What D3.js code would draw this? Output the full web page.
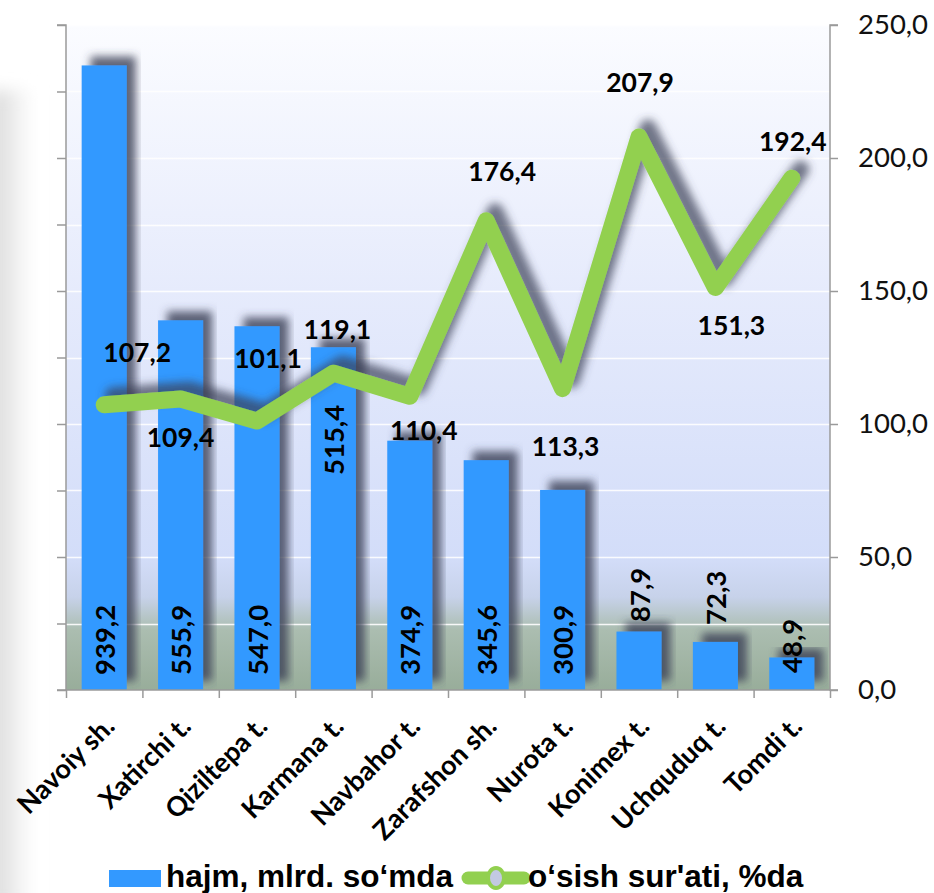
<!DOCTYPE html>
<html><head><meta charset="utf-8">
<script src="https://cdn.jsdelivr.net/npm/d3@7"></script>
<style>html,body{margin:0;padding:0;background:#fff;} svg{display:block;}</style>
</head><body>
<script>
const categories = ["Navoiy sh.", "Xatirchi t.", "Qiziltepa t.", "Karmana t.", "Navbahor t.", "Zarafshon sh.", "Nurota t.", "Konimex t.", "Uchquduq t.", "Tomdi t."];
const volume = [939.2, 555.9, 547.0, 515.4, 374.9, 345.6, 300.9, 87.9, 72.3, 48.9];
const growth = [107.2, 109.4, 101.1, 119.1, 110.4, 176.4, 113.3, 207.9, 151.3, 192.4];
const leftTicks = [0, 100, 200, 300, 400, 500, 600, 700, 800, 900, 1000];
const rightTicks = [0, 50, 100, 150, 200, 250];
const seriesNames = ["hajm, mlrd. so‘mda", "o‘sish sur'ati, %da"];

// layout-only offsets for labels (pixels)
const barLabelLift = [15, 15, 15, 215, 15, 15, 15, 68, 65, 17];
const lineLabelOffset = [[33,-53],[0,38],[11,-63],[4,-44],[14,34],[16,-50],[3,57],[1,-55],[16,37],[1,-37]];

const W = 934, H = 893;
const L = 66, R = 830, T = 25, B = 690;
const fmt = v => d3.format(".1f")(v).replace(".", ",");

const svg = d3.select("body").append("svg").attr("width", W).attr("height", H);
const defs = svg.append("defs");

const bg = defs.append("linearGradient").attr("id","plotbg").attr("x1",0).attr("y1",0).attr("x2",0).attr("y2",1);
[[0,"#fbfcff"],[0.4,"#e6ebfc"],[0.8,"#d3ddf9"],[0.86,"#c7d2ea"],[0.91,"#abbdb0"],[1,"#98ad9a"]]
  .forEach(([o,c]) => bg.append("stop").attr("offset",o).attr("stop-color",c));

const side = defs.append("linearGradient").attr("id","sidebg").attr("x1",0).attr("y1",0).attr("x2",1).attr("y2",0);
[[0,"#d4d4d4"],[0.35,"#e4e4e4"],[1,"#ffffff"]].forEach(([o,c]) => side.append("stop").attr("offset",o).attr("stop-color",c));
const sideBlur = defs.append("filter").attr("id","sideblur").attr("x","-50%").attr("y","-10%").attr("width","200%").attr("height","120%");
sideBlur.append("feGaussianBlur").attr("stdDeviation", 8);

function makeShadow(id, dx, dy, sd, op){
  const f = defs.append("filter").attr("id", id).attr("x","-30%").attr("y","-30%").attr("width","160%").attr("height","160%");
  f.append("feGaussianBlur").attr("in","SourceAlpha").attr("stdDeviation", sd).attr("result","b");
  f.append("feOffset").attr("in","b").attr("dx",dx).attr("dy",dy).attr("result","o");
  f.append("feFlood").attr("flood-color","#3a3f55").attr("flood-opacity",op).attr("result","c");
  f.append("feComposite").attr("in","c").attr("in2","o").attr("operator","in").attr("result","s");
  const m = f.append("feMerge");
  m.append("feMergeNode").attr("in","s");
  m.append("feMergeNode").attr("in","SourceGraphic");
}
makeShadow("barShadow", 9, -9, 4, 0.8);
makeShadow("lineShadow", 9, -9, 4, 0.7);

// page side shadow
svg.append("rect").attr("x",-10).attr("y",90).attr("width",42).attr("height",820)
  .attr("fill","url(#sidebg)").attr("filter","url(#sideblur)");

// scales
const x = d3.scaleBand().domain(categories).range([L, R]).paddingInner(0.41).paddingOuter(0.205);
const xIdx = d3.scaleLinear().domain([0, categories.length]).range([L, R]);
const yL = d3.scaleLinear().domain([0, 1000]).range([B, T]);
const yR = d3.scaleLinear().domain([0, 250]).range([B, T]);

// plot background
svg.append("rect").attr("x",L).attr("y",T).attr("width",R-L).attr("height",B-T).attr("fill","url(#plotbg)");

// gridlines
svg.append("g").selectAll("line").data(leftTicks.slice(1)).join("line")
  .attr("x1",L).attr("x2",R).attr("y1",d=>Math.round(yL(d))+0.5).attr("y2",d=>Math.round(yL(d))+0.5)
  .attr("stroke","#ffffff").attr("stroke-width",1.5).attr("opacity",0.9);

// bars
svg.append("g").selectAll("rect").data(volume).join("rect")
  .attr("x",(d,i)=>x(categories[i])).attr("width",x.bandwidth())
  .attr("y",d=>yL(d)).attr("height",d=>B-yL(d))
  .attr("fill","#3399ff").attr("filter","url(#barShadow)");

// axes
const axisColor = "#9a9a9a";
const gL = svg.append("g").attr("transform",`translate(${L},0)`)
  .call(d3.axisLeft(yL).tickValues(leftTicks).tickSize(9).tickFormat(""));
const gR = svg.append("g").attr("transform",`translate(${R},0)`)
  .call(d3.axisRight(yR).tickValues(rightTicks).tickSize(8).tickPadding(20).tickFormat(fmt));
const gB = svg.append("g").attr("transform",`translate(0,${B})`)
  .call(d3.axisBottom(xIdx).tickValues(d3.range(0, categories.length+1)).tickSize(8).tickFormat(""));
[gL,gR,gB].forEach(g => {
  g.select(".domain").attr("stroke",axisColor).attr("stroke-width",1.5);
  g.selectAll(".tick line").attr("stroke",axisColor).attr("stroke-width",1.5);
});
gB.select(".domain").attr("d", `M${L},0H${R}`);
gL.select(".domain").attr("d", `M-9,${T}H0V${B}H-9`);
gR.select(".domain").attr("d", `M8,${T}H0V${B}H8`);
gR.selectAll(".tick text").attr("font-family","Lato, 'Open Sans', sans-serif").attr("font-size",27.5)
  .attr("fill","#111").attr("text-anchor","start");

// line
const cx = i => x(categories[i]) + x.bandwidth()/2;
const line = d3.line().x((d,i)=>cx(i)).y(d=>yR(d));
svg.append("path").datum(growth).attr("d",line).attr("fill","none")
  .attr("stroke","#92d050").attr("stroke-width",17).attr("stroke-linecap","round").attr("stroke-linejoin","round")
  .attr("filter","url(#lineShadow)");

// bar labels
svg.append("g").selectAll("text").data(volume).join("text")
  .attr("transform",(d,i)=>`translate(${cx(i)},${B - barLabelLift[i]}) rotate(-90)`)
  .attr("text-anchor","start").attr("dominant-baseline","central")
  .attr("font-family","Lato, 'Open Sans', sans-serif").attr("font-weight","bold").attr("font-size",27.5)
  .attr("fill","#000").text(d=>fmt(d));

// line labels
svg.append("g").selectAll("text").data(growth).join("text")
  .attr("x",(d,i)=>cx(i)+lineLabelOffset[i][0]).attr("y",(d,i)=>yR(d)+lineLabelOffset[i][1])
  .attr("text-anchor","middle").attr("dominant-baseline","central")
  .attr("font-family","Lato, 'Open Sans', sans-serif").attr("font-weight","bold").attr("font-size",26.5)
  .attr("fill","#000").text(d=>fmt(d));

// category labels
svg.append("g").selectAll("text").data(categories).join("text")
  .attr("transform",(d,i)=>`translate(${cx(i)+12},${B+38}) rotate(-45)`)
  .attr("text-anchor","end")
  .attr("font-family","Lato, 'Open Sans', sans-serif").attr("font-weight","bold").attr("font-size",27)
  .attr("fill","#000").text(d=>d);

// legend
const lg = svg.append("g");
lg.append("rect").attr("x",109).attr("y",870).attr("width",52).attr("height",17).attr("fill","#3399ff");
lg.append("text").attr("x",166).attr("y",887).attr("font-family","'Liberation Sans', Arial, sans-serif")
  .attr("font-weight","bold").attr("font-size",31.5).attr("fill","#000").text(seriesNames[0]);
lg.append("line").attr("x1",468).attr("x2",524).attr("y1",878).attr("y2",878)
  .attr("stroke","#92d050").attr("stroke-width",13).attr("stroke-linecap","round");
lg.append("ellipse").attr("cx",496).attr("cy",878).attr("rx",8).attr("ry",10)
  .attr("fill","#c3c9e2").attr("stroke","#92d050").attr("stroke-width",4);
lg.append("text").attr("x",528).attr("y",887).attr("font-family","'Liberation Sans', Arial, sans-serif")
  .attr("font-weight","bold").attr("font-size",31.5).attr("fill","#000").text(seriesNames[1]);
</script>
</body></html>
